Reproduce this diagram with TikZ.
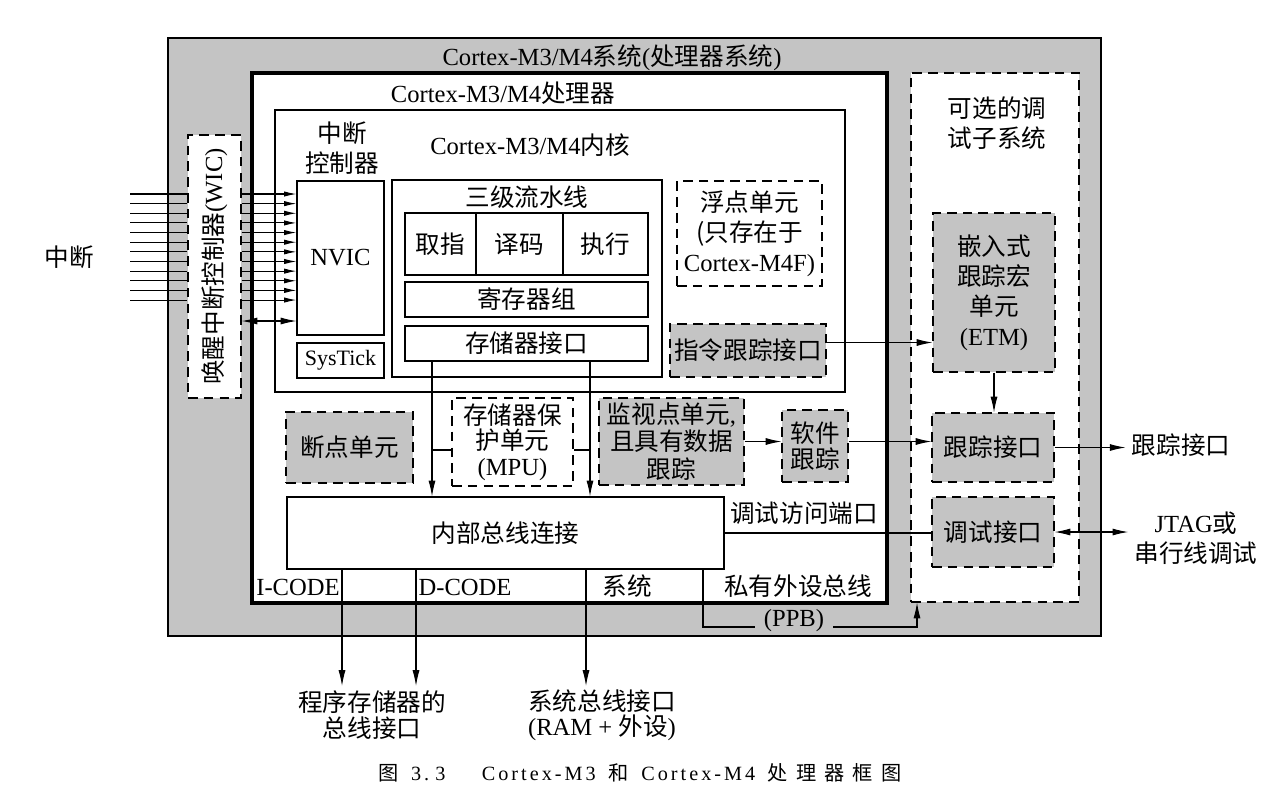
\documentclass[tikz,border=0pt]{standalone}
\usepackage{fontspec}
\setmainfont{Noto Sans CJK SC}
\newfontfamily\en{Liberation Serif}
\newfontfamily\capzh[LetterSpace=40]{Noto Sans CJK SC}
\newfontfamily\capen[LetterSpace=15]{Liberation Serif}
\usetikzlibrary{arrows.meta}
\definecolor{bggray}{RGB}{196,196,196}
\tikzset{
  corners/.style n args={4}{at={({(#1+#3)/2},{(#2+#4)/2})},
    minimum width={(#3-#1)*0.02cm}, minimum height={(#4-#2)*0.02cm}},
  blk/.style={draw, fill=white, line width=0.6pt, inner sep=0pt, align=center},
  dblk/.style={blk, dash pattern=on 5.5pt off 3.5pt},
  gblk/.style={dblk, fill=bggray},
  ln/.style={line width=0.6pt},
  arr/.style={ln, -{Latex[length=9pt,width=4pt]}},
  darr/.style={ln, {Latex[length=9pt,width=4pt]}-{Latex[length=9pt,width=4pt]}},
  irqarr/.style={ln, -{Latex[length=7pt,width=3pt]}},
  tight/.style={font=\fontsize{14}{14.5}\selectfont}
}
\begin{document}
\begin{tikzpicture}[x=0.02cm, y=-0.02cm, font=\fontsize{14}{17}\selectfont]
\useasboundingbox (0,0) rectangle (1273,806);
% processor system
\node[draw, fill=bggray, line width=0.8pt, inner sep=0pt, corners={168}{38}{1101}{636}] (sys) {};
\node (systitle) at (612,58) {{\en Cortex-M3/M4}系统{\en (}处理器系统{\en )}};
% processor
\node[blk, line width=1.8pt, corners={252}{73}{887}{603}] (proc) {};
\node (proctitle) at (503,93) {{\en Cortex-M3/M4}处理器};
% core
\node[blk, corners={275}{110}{845}{392}] (core) {};
\node (coretitle) at (530,145) {{\en Cortex-M3/M4}内核};
\node[align=center] (nvictitle) at (342,148) {中断\\控制器};
\node[blk, corners={297}{181}{384}{335}] (nvic) {\en NVIC};
\node[blk, corners={297}{343}{384}{378}, font=\fontsize{12.5}{14}\selectfont] (systick) {\en SysTick};
% pipeline
\node[blk, corners={392}{180}{662}{377}] (pipe) {};
\node (pipetitle) at (527,197) {三级流水线};
\node[blk, corners={405}{213}{476}{275}] (fetch) {取指};
\node[blk, corners={476}{213}{563}{275}] (decode) {译码};
\node[blk, corners={563}{213}{648}{275}] (exec) {执行};
\node[blk, corners={405}{282}{648}{317}] (regs) {寄存器组};
\node[blk, corners={405}{326}{648}{361}] (mif) {存储器接口};
\node[dblk, corners={677}{181}{822}{286}] (fpu) {浮点单元\\(只存在于\\{\en Cortex-M4F)}};
\node[gblk, corners={670}{324}{826}{377}] (itm) {指令跟踪接口};
% debug blocks in processor
\node[gblk, corners={286}{412}{413}{483}] (bkpt) {断点单元};
\node[dblk, tight, corners={452}{398}{573}{486}] (mpu) {存储器保\\护单元\\{\en (MPU)}};
\node[gblk, corners={599}{398}{744}{485}, font=\fontsize{14}{15.5}\selectfont] (watch) {监视点单元{\en ,}\\且具有数据\\跟踪};
\node[gblk, tight, corners={782}{410}{848}{482}] (sw) {软件\\跟踪};
\node[blk, corners={287}{497}{724}{569}] (bus) {内部总线连接};
\node (icodelbl) at (298,587) {\en I-CODE};
\node (dcodelbl) at (465,587) {\en D-CODE};
\node (syslbl) at (627,586) {系统};
\node (ppblbl) at (798,586) {私有外设总线};
\node (daplbl) at (804,513) {调试访问端口};
% optional debug subsystem
\node[dblk, corners={911}{73}{1079}{602}] (dbg) {};
\node[align=center] (dbgtitle) at (997,123) {可选的调\\试子系统};
\node[gblk, corners={933}{213}{1055}{372}] (etm) {嵌入式\\跟踪宏\\单元\\{\en (ETM)}};
\node[gblk, corners={932}{413}{1054}{482}] (trif) {跟踪接口};
\node[gblk, corners={932}{497}{1054}{567}] (dbgif) {调试接口};
% wakeup interrupt controller
\node[dblk, corners={188}{135}{241}{398}] (wic) {};
\node[rotate=90] (wictext) at (wic.center) {唤醒中断控制器{\en (WIC)}};
\node (irqlbl) at (69,257) {中断};
% interrupt lines
\foreach \k in {0,...,11} {
  \coordinate (irq\k) at (130,{194+9.64*\k});
  \draw[ln] (irq\k) -- (irq\k -| wic.west);
  \draw[irqarr] (irq\k -| wic.east) -- (irq\k -| nvic.west);
}
\coordinate (wake) at (230,321);
\draw[darr] (wake -| wic.east) -- (wake -| nvic.west);
% memory interface to bus
\coordinate (tapl) at (432,450);
\coordinate (tapr) at (590,450);
\draw[arr] (mif.south -| tapl) -- (bus.north -| tapl);
\draw[arr] (mif.south -| tapr) -- (bus.north -| tapr);
\draw[ln] (tapl) -- (tapl -| mpu.west);
\draw[ln] (tapr) -- (tapr -| mpu.east);
% trace paths
\draw[arr] ([yshift=0.16cm]itm.east) -- ([yshift=0.16cm]itm.east -| etm.west);
\draw[arr] (watch.east) -- (watch.east -| sw.west);
\draw[arr] (watch.east -| sw.east) -- (watch.east -| trif.west);
\draw[arr] (etm.south) -- (etm.south |- trif.north);
\node (trout) at (1181,445) {跟踪接口};
\draw[arr] (trif.east) -- (trif.east -| trout.west);
\draw[ln] (bus.east) -- (bus.east -| dbgif.west);
\node[align=center] (jtag) at (1196,538) {{\en JTAG}或\\串行线调试};
\draw[darr] (dbgif.east) -- (dbgif.east -| jtag.west);
% bus outputs
\coordinate (icode) at (342,686);
\coordinate (dcode) at (416,686);
\coordinate (sysbus) at (586,686);
\draw[arr] (bus.south -| icode) -- (icode);
\draw[arr] (bus.south -| dcode) -- (dcode);
\draw[arr] (bus.south -| sysbus) -- (sysbus);
\coordinate (ppb1) at (703,627);
\coordinate (ppb2) at (917,627);
\draw[arr] (bus.south -| ppb1) -- (ppb1) -- (ppb2) -- (ppb2 |- dbg.south);
\node[fill=bggray, inner xsep=5pt, inner ysep=1pt] (ppb) at (794,621) {\en (PPB)};
\node[align=center, tight] (progbus) at (372,715) {程序存储器的\\总线接口};
\node[align=center, tight] (sysbuslbl) at (602,715) {系统总线接口\\{\en (RAM + }外设{\en )}};
% caption
\node (cap) at (640,773) {\fontsize{11.5}{13}\selectfont\capzh 图\hspace{0.6em}{\capen 3.\hspace{0.3em}3}\hspace{1.8em}{\capen Cortex-M3} 和 {\capen Cortex-M4} 处理器框图};
\end{tikzpicture}
\end{document}
